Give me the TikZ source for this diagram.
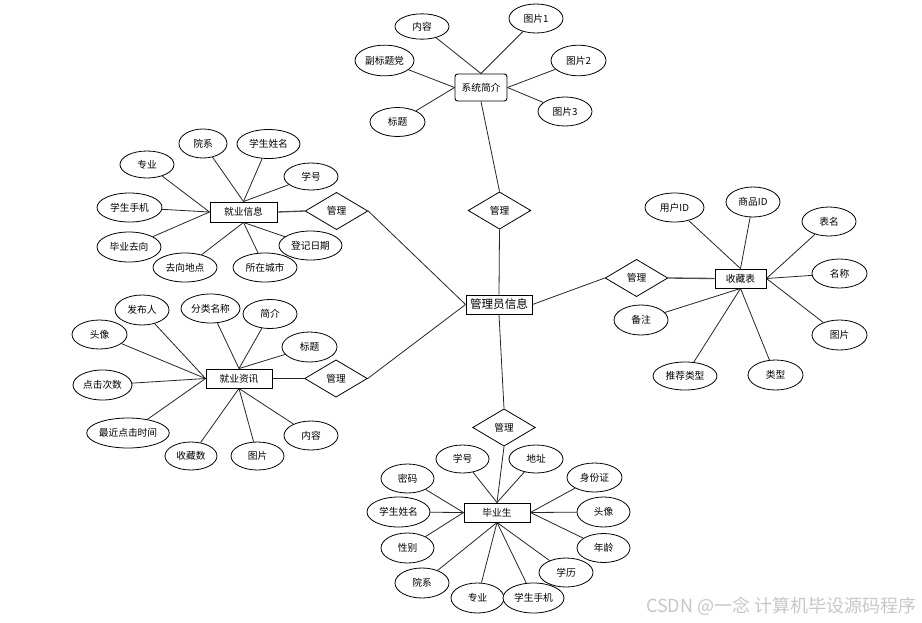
\documentclass[tikz,border=0pt]{standalone}
\usepackage{fontspec}
\newfontfamily\cjk{Noto Sans CJK SC}
\usetikzlibrary{shapes.geometric,backgrounds}
\begin{document}
\begin{tikzpicture}[x=0.75pt,y=-0.75pt,
  every node/.style={font=\cjk\fontsize{7.3}{9}\selectfont,text=black},
  attr/.style={ellipse,draw,fill=white,line width=0.6pt,inner sep=0pt,minimum width=#1*0.75pt,minimum height=21.75pt},
  attr/.default=54,
  ent/.style={rectangle,draw,fill=white,line width=0.7pt,inner sep=0pt,minimum width=#1*0.75pt,minimum height=14.25pt},
  rel/.style={diamond,draw,fill=white,line width=0.6pt,inner sep=0pt,minimum width=47pt,minimum height=28pt},
  link/.style={draw,line width=0.6pt,black!85}
]
\useasboundingbox (0,0) rectangle (922,622);

% ---------- 系统简介 ----------
\node[ent=52,rounded corners=2pt,minimum height=20.25pt] (xt) at (481,87.5) {系统简介};
\node[attr,minimum height=19pt] (xt1) at (422,26.5) {内容};
\node[attr] (xt2) at (536,18.5) {图片1};
\node[attr=59,minimum height=23pt] (xt3) at (384.5,60.5) {副标题党};
\node[attr=55,minimum height=23pt] (xt4) at (578.5,60.5) {图片2};
\node[attr=55] (xt5) at (397.5,122) {标题};
\node[attr] (xt6) at (565,111.5) {图片3};
\node[rel] (r1) at (499.5,210.5) {管理};

% ---------- 管理员信息 ----------
\node[ent=66,font=\cjk\fontsize{8.7}{10}\selectfont] (adm) at (499,304.5) {管理员信息};

% ---------- 就业信息 ----------
\node[ent=67,minimum height=15pt] (jy) at (243.5,212) {就业信息};
\node[attr=48] (jy1) at (203,143.5) {院系};
\node[attr=63] (jy2) at (268.5,144) {学生姓名};
\node[attr,minimum height=20.25pt] (jy3) at (147,164.5) {专业};
\node[attr,minimum height=20.25pt] (jy4) at (311,176.5) {学号};
\node[attr=65] (jy5) at (129.5,207.5) {学生手机};
\node[attr=64,minimum height=22.5pt] (jy6) at (129,247) {毕业去向};
\node[attr=63] (jy7) at (310.5,245.5) {登记日期};
\node[attr=64] (jy8) at (185,267.5) {去向地点};
\node[attr=64] (jy9) at (265,267.5) {所在城市};
\node[rel] (r2) at (336.5,211) {管理};

% ---------- 就业资讯 ----------
\node[ent=66] (zx) at (239,378.5) {就业资讯};
\node[attr,minimum height=22.5pt] (zx1) at (142,310) {发布人};
\node[attr=59] (zx2) at (210.5,308.5) {分类名称};
\node[attr] (zx3) at (270,314) {简介};
\node[attr=55] (zx4) at (99.5,334.5) {头像};
\node[attr=55,minimum height=22.5pt] (zx5) at (309.5,347) {标题};
\node[attr=59,minimum height=22.5pt] (zx6) at (102.5,385) {点击次数};
\node[attr=80,minimum height=22.5pt] (zx7) at (128,433) {最近点击时间};
\node[attr] (zx8) at (311,435.5) {内容};
\node[attr=52,minimum height=21pt] (zx9) at (191,456) {收藏数};
\node[attr=53,minimum height=21pt] (zx10) at (257.5,456) {图片};
\node[rel] (r3) at (336,378.5) {管理};

% ---------- 收藏表 ----------
\node[ent=51] (sc) at (740.5,278.5) {收藏表};
\node[attr=59] (sc1) at (674.5,207.5) {用户ID};
\node[attr,minimum height=22.5pt] (sc2) at (753,202) {商品ID};
\node[attr] (sc3) at (829,221.5) {表名};
\node[attr=55] (sc4) at (839.5,273.5) {名称};
\node[attr,minimum height=22.5pt] (sc5) at (641,320) {备注};
\node[attr=55,minimum height=22.5pt] (sc6) at (839.5,335) {图片};
\node[attr=64,minimum height=21pt] (sc7) at (685,376) {推荐类型};
\node[attr=55,minimum height=22.5pt] (sc8) at (775.5,375) {类型};
\node[rel] (r4) at (636.5,278) {管理};

% ---------- 毕业生 ----------
\node[rel] (r5) at (504,427.5) {管理};
\node[ent=66] (by) at (497,512.5) {毕业生};
\node[attr=53,minimum height=21pt] (by1) at (462.5,459) {学号};
\node[attr,minimum height=21pt] (by2) at (536,459) {地址};
\node[attr=53] (by3) at (407.5,478.5) {密码};
\node[attr=55] (by4) at (594.5,477.5) {身份证};
\node[attr=63,minimum height=22.5pt] (by5) at (398.5,512) {学生姓名};
\node[attr=53,minimum height=22.5pt] (by6) at (603.5,512) {头像};
\node[attr=53,minimum height=22.5pt] (by7) at (407.5,548) {性别};
\node[attr=53] (by8) at (603.5,548) {年龄};
\node[attr] (by9) at (566,572.5) {学历};
\node[attr,minimum height=22.5pt] (by10) at (422,583) {院系};
\node[attr=53,minimum height=22.5pt] (by11) at (477.5,598) {专业};
\node[attr=61,minimum height=22.5pt] (by12) at (533.5,598) {学生手机};

% watermark
\node[anchor=east,font=\cjk\fontsize{13.5}{15}\selectfont,text=black!22] (wm) at (921,606) {CSDN @一念 计算机毕设源码程序};

\begin{scope}[on background layer]
  \fill[white] (0,0) rectangle (922,622);
  % 系统简介
  \path[link] (xt.north) -- (xt1);
  \path[link] (xt.north) -- (xt2);
  \path[link] (xt.west) -- (xt3);
  \path[link] (xt.west) -- (xt5);
  \path[link] (xt.east) -- (xt4);
  \path[link] (xt.east) -- (xt6);
  \path[link] (xt.south) -- (r1.north);
  \path[link] (r1.south) -- (adm.north);
  % 就业信息
  \path[link] (jy.north) -- (jy1);
  \path[link] (jy.north) -- (jy2);
  \path[link] (jy.north) -- (jy4);
  \path[link] (jy.west) -- (jy3);
  \path[link] (jy.west) -- (jy5);
  \path[link] (jy.west) -- (jy6);
  \path[link] (jy.south) -- (jy7);
  \path[link] (jy.south) -- (jy8);
  \path[link] (jy.south) -- (jy9);
  \path[link,line width=1pt,black!70] (jy.east) -- (r2.west);
  \path[link] (r2.east) -- (adm.west);
  % 就业资讯
  \path[link] (zx.west) -- (zx1);
  \path[link] (zx.west) -- (zx4);
  \path[link] (zx.west) -- (zx6);
  \path[link] (zx.west) -- (zx7);
  \path[link] (zx.north) -- (zx2);
  \path[link] (zx.north) -- (zx3);
  \path[link] (zx.north) -- (zx5);
  \path[link] (zx.south) -- (zx8);
  \path[link] (zx.south) -- (zx9);
  \path[link] (zx.south) -- (zx10);
  \path[link] (zx.east) -- (r3.west);
  \path[link] (r3.east) -- (adm.west);
  % 收藏表
  \path[link] (sc.north) -- (sc1);
  \path[link] (sc.north) -- (sc2);
  \path[link] (sc.east) -- (sc3);
  \path[link] (sc.east) -- (sc4);
  \path[link] (sc.east) -- (sc6);
  \path[link] (sc.south) -- (sc5);
  \path[link] (sc.south) -- (sc7);
  \path[link] (sc.south) -- (sc8);
  \path[link,line width=1pt,black!70] (sc.west) -- (r4.east);
  \path[link] (r4.west) -- (adm.east);
  % 毕业生
  \path[link] (adm.south) -- (r5.north);
  \path[link] (r5.south) -- (by.north);
  \path[link] (by.north) -- (by1);
  \path[link] (by.north) -- (by2);
  \path[link] (by.west) -- (by3);
  \path[link] (by.west) -- (by5);
  \path[link] (by.west) -- (by7);
  \path[link] (by.east) -- (by4);
  \path[link] (by.east) -- (by6);
  \path[link] (by.east) -- (by8);
  \path[link] (by.south) -- (by9);
  \path[link] (by.south) -- (by10);
  \path[link] (by.south) -- (by11);
  \path[link] (by.south) -- (by12);
\end{scope}
\end{tikzpicture}
\end{document}
